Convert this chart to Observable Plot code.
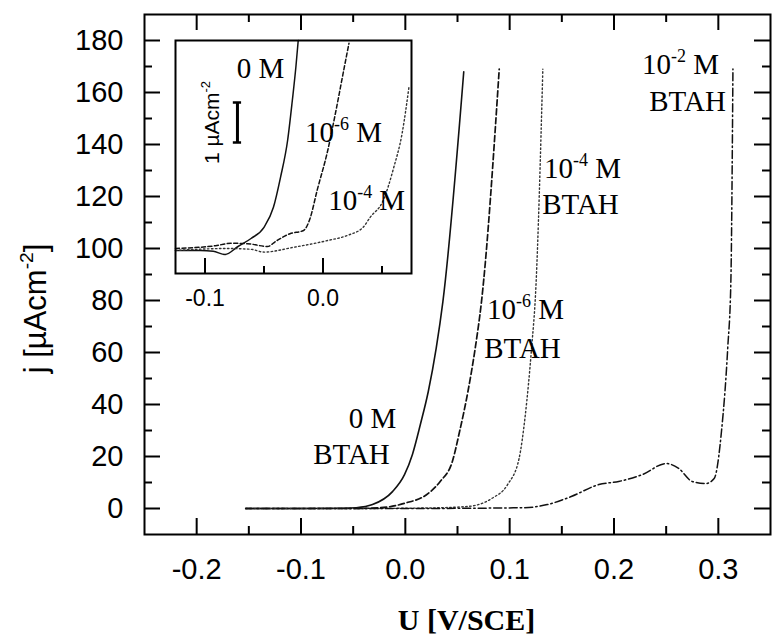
<!DOCTYPE html>
<html><head><meta charset="utf-8">
<script src="https://cdn.jsdelivr.net/npm/d3@7"></script>
<script src="https://cdn.jsdelivr.net/npm/@observablehq/plot@0.6"></script>
<style>
body{margin:0;background:#fff;}
#wrap{position:relative;width:772px;height:634px;overflow:hidden;}
#inset{position:absolute;left:162px;top:30px;}
</style></head><body><div id="wrap"><div id="main"></div><div id="inset"></div></div>
<script>
// ---------- main chart data: U [V/SCE] vs j [µA cm^-2] ----------
const U_0M   = [-0.153, -0.1, -0.06, -0.047, -0.0315, -0.0123, -0.0008, 0.0068, 0.0144, 0.022, 0.0296, 0.036, 0.056];
const j_0M   = [0, 0, 0.1, 0.3, 1.5, 6.5, 13, 20.8, 32.3, 45, 61.7, 79.6, 168];
const U_1e6  = [-0.153, -0.1, -0.05, -0.024, -0.0008, 0.022, 0.0334, 0.045, 0.052, 0.060, 0.067, 0.073, 0.090];
const j_1e6  = [0, 0, 0, 0.3, 2, 5.8, 10.4, 18, 29.6, 45, 61.7, 79.6, 169];
const U_1e4  = [-0.153, -0.05, 0.022, 0.060, 0.0826, 0.098, 0.109, 0.115, 0.121, 0.125, 0.1318];
const j_1e4  = [0, 0, 0.2, 0.8, 3.8, 9.2, 19.2, 36, 61.7, 84, 169];
const U_1e2  = [-0.153, 0, 0.113, 0.136, 0.159, 0.1855, 0.2045, 0.227, 0.250, 0.262, 0.275, 0.288, 0.296, 0.303, 0.309, 0.312, 0.314];
const j_1e2  = [0, 0, 0.3, 1.5, 4.6, 9.2, 10.4, 13, 17.3, 15.4, 10.4, 9.6, 11.5, 29.6, 61.7, 87, 169];

const xDomain = [-0.25, 0.35];
const yDomain = [-10, 190];
const xMajor = [-0.2, -0.1, 0, 0.1, 0.2, 0.3];
const xMinor = [-0.15, -0.05, 0.05, 0.15, 0.25];
const yMajor = [0, 20, 40, 60, 80, 100, 120, 140, 160, 180];
const yMinor = [10, 30, 50, 70, 90, 110, 130, 150, 170];

const mainLabelText = ["0 M", "BTAH", "10^{-6} M", "BTAH", "10^{-4} M", "BTAH", "10^{-2} M", "BTAH"];
const mainLabelU    = [-0.0315, -0.0516, 0.1152, 0.1123, 0.1698, 0.1679, 0.2637, 0.2705];
const mainLabelJ    = [34.6, 20.8, 76.5, 61.5, 130.8, 116.9, 170.8, 156.5];

const xTitle = "U [V/SCE]";
const yTitle = "j [µAcm^{-2}]";

// ---------- inset data (scale bar units) ----------
const iU_0M  = [-0.125, -0.104, -0.093, -0.083, -0.072, -0.061, -0.050, -0.042, -0.036, -0.030, -0.026, -0.023, -0.021];
const ij_0M  = [0, 0, -0.02, -0.1, 0.1, 0.3, 0.58, 1.08, 1.83, 2.75, 3.75, 4.58, 5.25];
const iU_1e6 = [-0.125, -0.091, -0.078, -0.064, -0.047, -0.040, -0.028, -0.0165, -0.011, -0.005, 0.004, 0.011, 0.017, 0.022];
const ij_1e6 = [0.05, 0.12, 0.18, 0.17, 0.1, 0.23, 0.42, 0.5, 0.8, 1.5, 2.5, 3.5, 4.42, 5.18];
const iU_1e4 = [-0.125, -0.081, -0.061, -0.050, -0.025, 0.004, 0.021, 0.034, 0.040, 0.051, 0.060, 0.067, 0.073];
const ij_1e4 = [0, 0.05, 0.03, -0.04, 0.08, 0.25, 0.38, 0.58, 0.83, 1.25, 2.08, 2.92, 4.12];

const ixDomain = [-0.125, 0.075];
const iyDomain = [-0.575, 5.25];
const ixMajor = [-0.1, 0];
const ixMinor = [-0.05, 0.05];

const insetLabelText = ["0 M", "10^{-6} M", "10^{-4} M"];
const insetLabelU    = [-0.053, 0.0174, 0.037];
const insetLabelJ    = [4.55, 2.95, 1.25];

const scaleBarU = -0.0725;
const scaleBarJ = [2.7, 3.7];       // 1 µAcm^-2
const scaleBarCap = 0.0035;
const scaleBarText = "1 µAcm^{-2}";
const scaleTextU = -0.0936, scaleTextJ = 3.2;

// ---------- helpers ----------
const rows = (xs, ys) => xs.map((x, i) => ({x, y: ys[i]}));
const sans = "'Liberation Sans', Arial, Helvetica, sans-serif";
const serif = "'Liberation Serif', 'Times New Roman', Times, serif";
const ink = "#111";

function supify(svg) {
  d3.select(svg).selectAll("text").each(function () {
    const t = this.textContent;
    const m = /^(.*?)\^\{(.*?)\}(.*)$/.exec(t);
    if (!m) return;
    const fs = parseFloat(getComputedStyle(this).fontSize) || 20;
    this.textContent = "";
    const s = d3.select(this);
    s.append("tspan").text(m[1]);
    s.append("tspan").attr("dy", -0.42 * fs).attr("font-size", 0.62 * fs).text(m[2]);
    s.append("tspan").attr("dy", 0.42 * fs).text(m[3]);
  });
}

// inward tick marks as short rules; pixel length converted to data units
function tickMarks(xd, yd, fw, fh, ticks, len, side) {
  const ux = len * (xd[1] - xd[0]) / fw, uy = len * (yd[1] - yd[0]) / fh;
  const o = {stroke: "black", strokeWidth: 2};
  if (side === "bottom") return Plot.ruleX(ticks, {x: d => d, y1: yd[0], y2: yd[0] + uy, ...o});
  if (side === "top")    return Plot.ruleX(ticks, {x: d => d, y1: yd[1], y2: yd[1] - uy, ...o});
  if (side === "left")   return Plot.ruleY(ticks, {y: d => d, x1: xd[0], x2: xd[0] + ux, ...o});
  return Plot.ruleY(ticks, {y: d => d, x1: xd[1], x2: xd[1] - ux, ...o});
}

// ---------- main plot ----------
const W = 772, H = 634, mL = 144, mR = 2, mT = 14, mB = 100;
const fW = W - mL - mR, fH = H - mT - mB;
const mt = (ticks, len, side) => tickMarks(xDomain, yDomain, fW, fH, ticks, len, side);
const main = Plot.plot({
  width: W, height: H,
  marginLeft: mL, marginRight: mR, marginTop: mT, marginBottom: mB,
  x: {domain: xDomain},
  y: {domain: yDomain},
  style: {fontFamily: sans, background: "white", color: "black"},
  marks: [
    Plot.axisX({anchor: "bottom", ticks: xMajor, tickSize: 0, tickPadding: 24, fontSize: 29, tickFormat: d => d.toFixed(1), label: null}),
    Plot.axisY({anchor: "left", ticks: yMajor, tickSize: 0, tickPadding: 21, fontSize: 29, tickFormat: d => String(d), label: null}),
    Plot.line(rows(U_0M, j_0M), {x: "x", y: "y", curve: "monotone-x", stroke: ink, strokeWidth: 1.6}),
    Plot.line(rows(U_1e6, j_1e6), {x: "x", y: "y", curve: "monotone-x", stroke: ink, strokeWidth: 1.7, strokeDasharray: "6,3"}),
    Plot.line(rows(U_1e4, j_1e4), {x: "x", y: "y", curve: "monotone-x", stroke: "#333", strokeWidth: 1.4, strokeDasharray: "1.5,2.5"}),
    Plot.line(rows(U_1e2, j_1e2), {x: "x", y: "y", curve: "monotone-x", stroke: ink, strokeWidth: 1.5, strokeDasharray: "8,3,1.5,3"}),
    Plot.text(mainLabelText.map((t, i) => ({t, x: mainLabelU[i], y: mainLabelJ[i]})),
      {x: "x", y: "y", text: "t", fontFamily: serif, fontSize: 29, fill: "black"}),
    Plot.text([xTitle], {text: d => d, frameAnchor: "bottom", textAnchor: "middle", dx: 9, dy: 95, fontFamily: serif, fontWeight: "bold", fontSize: 30, fill: "black"}),
    Plot.text([yTitle], {text: d => d, frameAnchor: "left", textAnchor: "middle", rotate: -90, dx: -108, dy: 34, fontFamily: sans, fontSize: 31, fill: "black"}),
    Plot.frame({strokeWidth: 2, stroke: "black"}),
    mt(xMajor, 16, "bottom"), mt(xMinor, 8, "bottom"),
    mt(xMajor, 16, "top"), mt(xMinor, 8, "top"),
    mt(yMajor, 16, "left"), mt(yMinor, 8, "left"),
    mt(yMajor, 16, "right"), mt(yMinor, 8, "right")
  ]
});
document.getElementById("main").append(main);
supify(main);

// ---------- inset plot ----------
const iW = 263, iH = 290, imL = 13, imR = 14, imT = 10, imB = 47;
const iFW = iW - imL - imR, iFH = iH - imT - imB;
const it = (ticks, len, side) => tickMarks(ixDomain, iyDomain, iFW, iFH, ticks, len, side);
const inset = Plot.plot({
  width: iW, height: iH,
  marginLeft: imL, marginRight: imR, marginTop: imT, marginBottom: imB,
  x: {domain: ixDomain},
  y: {domain: iyDomain, axis: null},
  style: {fontFamily: sans, background: "none", color: "black"},
  marks: [
    Plot.frame({fill: "white"}),
    Plot.axisX({anchor: "bottom", ticks: ixMajor, tickSize: 0, tickPadding: 16, fontSize: 23, tickFormat: d => d.toFixed(1), label: null}),
    Plot.line(rows(iU_0M, ij_0M), {x: "x", y: "y", curve: "monotone-x", stroke: ink, strokeWidth: 1.5}),
    Plot.line(rows(iU_1e6, ij_1e6), {x: "x", y: "y", curve: "monotone-x", stroke: ink, strokeWidth: 1.5, strokeDasharray: "4,2.5"}),
    Plot.line(rows(iU_1e4, ij_1e4), {x: "x", y: "y", curve: "monotone-x", stroke: "#333", strokeWidth: 1.4, strokeDasharray: "1.5,2.5"}),
    Plot.ruleX([scaleBarU], {x: d => d, y1: scaleBarJ[0], y2: scaleBarJ[1], stroke: "black", strokeWidth: 3}),
    Plot.ruleY(scaleBarJ, {y: d => d, x1: scaleBarU - scaleBarCap, x2: scaleBarU + scaleBarCap, stroke: "black", strokeWidth: 2.5}),
    Plot.text([scaleBarText], {text: d => d, x: scaleTextU, y: scaleTextJ, rotate: -90, fontFamily: sans, fontSize: 21, fill: "black"}),
    Plot.text(insetLabelText.map((t, i) => ({t, x: insetLabelU[i], y: insetLabelJ[i]})),
      {x: "x", y: "y", text: "t", fontFamily: serif, fontSize: 29, fill: "black"}),
    Plot.frame({strokeWidth: 2, stroke: "black"}),
    it(ixMajor, 15, "bottom"), it(ixMinor, 7, "bottom")
  ]
});
document.getElementById("inset").append(inset);
supify(inset);
</script>
</body></html>
